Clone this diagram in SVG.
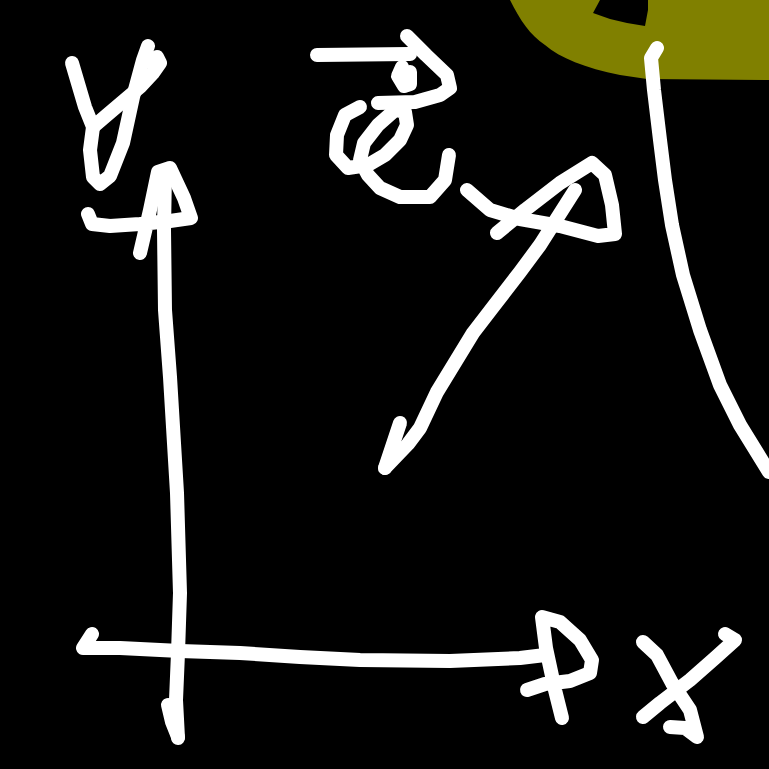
<svg xmlns="http://www.w3.org/2000/svg" width="769" height="769" viewBox="0 0 769 769">
<style>
.s{fill:none;stroke:#fff;stroke-width:14;stroke-linecap:round;stroke-linejoin:round}
</style>
<rect width="769" height="769" fill="#000"/>
<g id="olive">
<path d="M510,0 C520,20 530,35 545,45 C560,58 585,68 620,75 L647,79 L769,80 L769,0 Z" fill="#808000"/>
<path d="M593,13 L600,0 L648,0 L648,10 L645,26 L627,23 L610,19 Z" fill="#000"/>
</g>
<g id="y-label">
<path class="s" d="M72,63 L85,107 L93,127 L90,150 L93,177 L100,184 L110,176 L123,143 L133,97 L143,60 L148,46"/>
<path class="s" d="M93,127 L107,115 L127,98 L140,87 L153,73 L160,63 L157,57 L152,63"/>
</g>
<g id="y-axis">
<path class="s" d="M178,738 L176,700 L178,653 L180,593 L177,493 L170,377 L165,310 L164,230 L165,172"/>
<path class="s" d="M168,705 L172,722 L178,737"/>
<path class="s" d="M140,253 L150,210 L158,172 L170,168 L184,198 L191,218 L170,221 L140,224 L110,226 L92,224 L88,214"/>
</g>
<g id="x-axis">
<path class="s" d="M92,634 L83,648 L120,648 L180,651 L240,653 L300,657 L360,660 L450,661 L520,658 L545,655"/>
<path class="s" d="M527,690 L545,684 L570,681 L590,673 L592,660 L580,640 L560,622 L542,617 L546,648 L555,690 L562,718"/>
</g>
<g id="x-label">
<path class="s" d="M643,642 L657,655 L672,683 L690,710 L697,737 L685,728 L670,727"/>
<path class="s" d="M643,717 L660,703 L690,680 L715,658 L735,640 L725,634"/>
</g>
<g id="e-label">
<path class="s" d="M317,55 L410,54"/>
<path class="s" d="M407,36 L426,55 L447,75 L450,88 L440,95 L415,102 L378,103"/>
<path class="s" d="M402,67 L398,76 L404,86 L410,84 L410,72"/>
<path class="s" d="M360,107 L345,115 L337,135 L336,155 L348,168 L368,165 L385,155 L400,140 L407,125 L405,112 L395,110 L378,125 L364,143 L360,160 L368,175 L380,188 L400,197 L430,197 L445,180 L449,155"/>
</g>
<g id="e-vector">
<path class="s" d="M385,468 L400,423"/>
<path class="s" d="M385,468 L408,444 L420,428 L437,392 L473,333 L493,307 L520,272 L540,245 L575,190"/>
<path class="s" d="M497,233 L525,210 L560,183 L592,163 L605,175 L612,205 L615,234 L598,236 L560,226 L520,219 L490,210 L467,190"/>
</g>
<g id="curve">
<path class="s" d="M657,48 L651,58 L654,90 L660,140 L665,180 L672,225 L683,275 L700,330 L720,385 L740,425 L769,472"/>
</g>
</svg>
